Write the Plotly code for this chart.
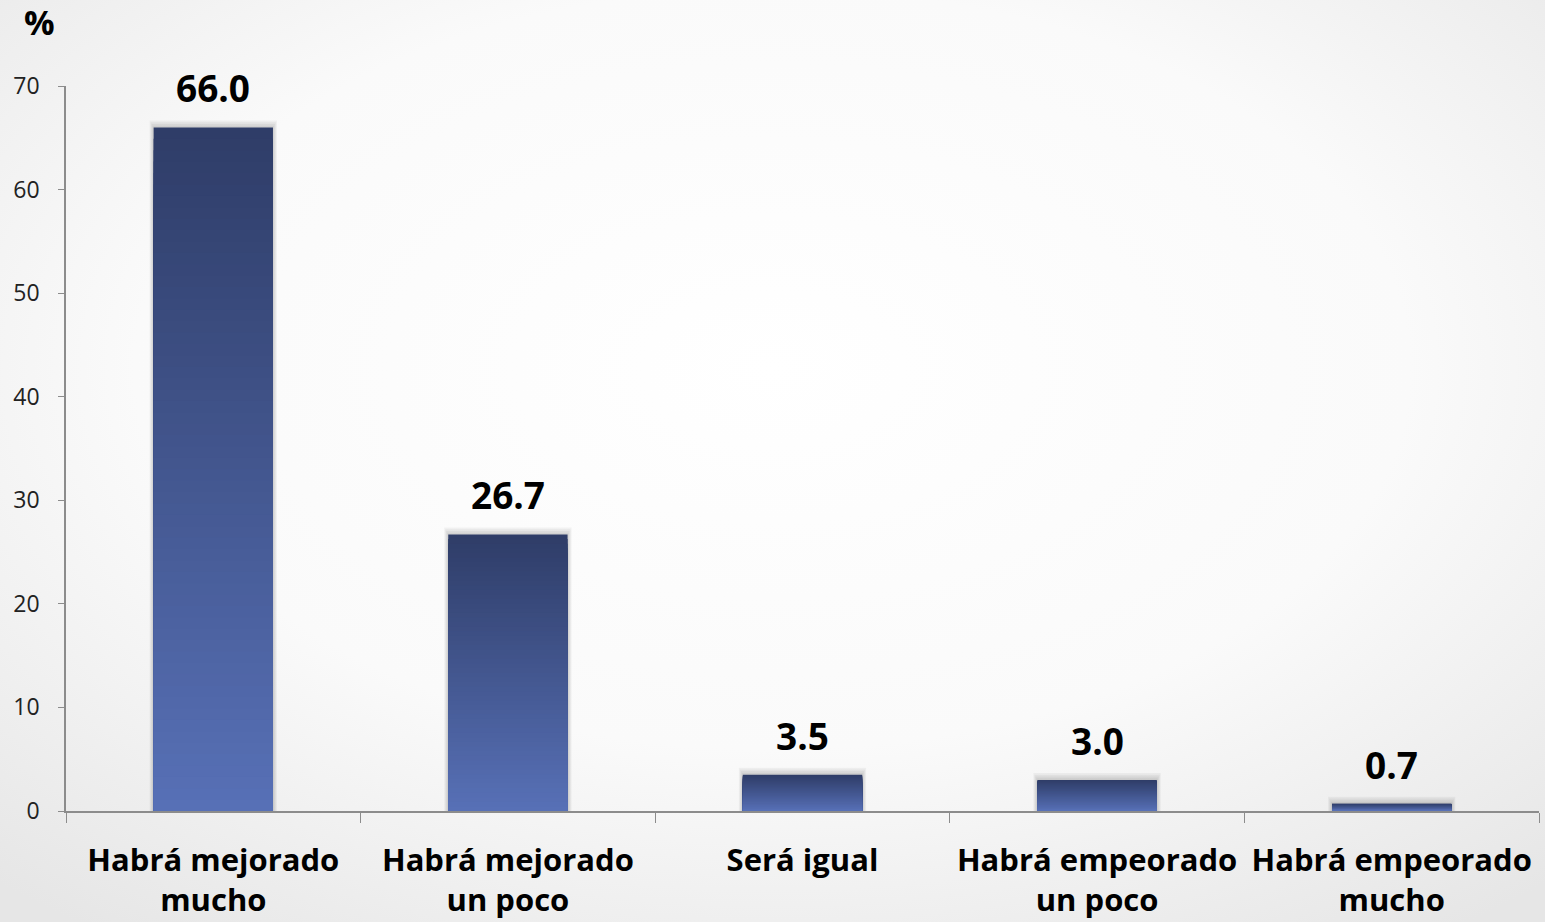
import base64
import plotly.graph_objects as go

categorias = ["Habrá mejorado<br>mucho", "Habrá mejorado<br>un poco", "Será igual",
              "Habrá empeorado<br>un poco", "Habrá empeorado<br>mucho"]
valores = [66.0, 26.7, 3.5, 3.0, 0.7]
etiquetas = ["66.0", "26.7", "3.5", "3.0", "0.7"]

# gradient colours, top of bar -> bottom of bar
top_rgb = (0x2f, 0x3d, 0x68)
bottom_rgb = (0x57, 0x70, 0xb6)
N = 60
bar_w = 0.405

fig = go.Figure()

# faint blurred shadow behind the bars
for k in range(4, 0, -1):
    fig.add_trace(go.Bar(
        x=categorias,
        y=[v + 0.17 * k for v in valores],
        width=bar_w + 0.0068 * k,
        marker=dict(color="rgba(0,0,0,0.045)", line=dict(width=0)),
        hoverinfo="skip", showlegend=False,
    ))

# overlaid bars, tallest first, so each bar gets a vertical gradient without seams
for i in range(N):
    f = (N - i) / N
    t = i / (N - 1)
    c = tuple(round(top_rgb[k] + (bottom_rgb[k] - top_rgb[k]) * t) for k in range(3))
    fig.add_trace(go.Bar(
        x=categorias,
        y=[v * f for v in valores],
        width=bar_w,
        marker=dict(color="rgb(%d,%d,%d)" % c, line=dict(width=0)),
        hoverinfo="skip",
        showlegend=False,
    ))

# value labels
for cat, v, lab in zip(categorias, valores, etiquetas):
    fig.add_annotation(
        x=cat, y=v, text="<b>%s</b>" % lab, showarrow=False,
        yanchor="bottom", yshift=12,
        font=dict(family="Open Sans", size=37, color="#000000"),
    )

fig.add_annotation(
    text="<b>%</b>", xref="paper", yref="paper", x=-0.018, y=(811 - 22) / 725,
    xanchor="center", yanchor="middle", showarrow=False,
    font=dict(family="Open Sans", size=34, color="#000000"),
)

# soft radial background like the slide
svg = ('<svg xmlns="http://www.w3.org/2000/svg" width="1545" height="922">'
       '<defs><radialGradient id="g" cx="50%" cy="40%" r="75%">'
       '<stop offset="0" stop-color="#ffffff"/><stop offset="0.55" stop-color="#fafafa"/>'
       '<stop offset="1" stop-color="#e6e6e6"/></radialGradient></defs>'
       '<rect width="1545" height="922" fill="url(#g)"/></svg>')
bg = "data:image/svg+xml;base64," + base64.b64encode(svg.encode()).decode()

fig.update_layout(
    barmode="overlay",
    width=1545, height=922,
    margin=dict(l=66, r=6, t=86, b=111),
    paper_bgcolor="#f3f3f3",
    plot_bgcolor="rgba(0,0,0,0)",
    font=dict(family="Open Sans", color="#000000"),
    images=[dict(source=bg, xref="paper", yref="paper",
                 x=-66 / 1473, y=1 + 86 / 725, sizex=1545 / 1473, sizey=922 / 725,
                 xanchor="left", yanchor="top", sizing="stretch", layer="below")],
)

fig.update_xaxes(
    showline=True, linecolor="#8c8c8c", linewidth=1.5,
    ticks="outside", tickson="boundaries", ticklen=10, tickcolor="#8c8c8c",
    tickfont=dict(size=31, color="#000000", weight="bold"),
    ticklabelstandoff=21,
    showgrid=False, automargin=False, range=[-0.5, 4.5],
)
fig.update_yaxes(
    range=[0, 70], dtick=10, showline=True, linecolor="#8c8c8c", linewidth=1.5,
    ticks="outside", ticklen=6, tickcolor="#8c8c8c",
    tickfont=dict(size=23, color="#222222"),
    ticklabelstandoff=14,
    showgrid=False, zeroline=False, automargin=False,
)

fig.write_html("out.html", config={"displayModeBar": False},
               post_script="document.body.style.margin='0';document.body.style.overflow='hidden';")
